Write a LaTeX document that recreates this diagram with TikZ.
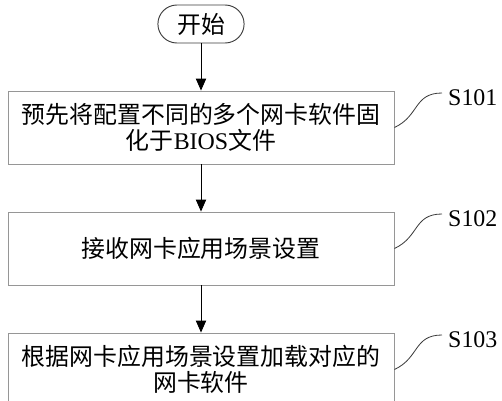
\documentclass[tikz,border=0pt]{standalone}
\usepackage{fontspec}
\setmainfont{Liberation Serif}
\newfontfamily\cjk{Noto Sans CJK SC}
\usetikzlibrary{arrows.meta, positioning, shapes.misc}
\definecolor{boxgray} {RGB}{150,150,150}
\definecolor{edgegray}{RGB}{ 60, 60, 60}

\begin{document}
\begin{tikzpicture}[
  stepbox/.style={rectangle, draw=boxgray, line width=0.8pt,
    minimum width=11.58cm, minimum height=2.19cm, align=center,
    font=\cjk\fontsize{20.4}{22.2}\selectfont, inner sep=0pt},
  term/.style={rounded rectangle, draw=edgegray, line width=0.8pt,
    minimum width=2.82cm, minimum height=1.14cm,
    font=\cjk\fontsize{20.4}{22.2}\selectfont},
  tag/.style={anchor=west, inner sep=0pt, font=\fontsize{20.4}{22}\selectfont},
  arr/.style={-{Triangle[length=0.36cm,width=0.31cm]}, line width=0.8pt},
  lead/.style={draw=edgegray, line width=0.7pt},
]
\useasboundingbox (0,0) rectangle (15.06,-12);
\clip (0,0) rectangle (15.06,-12);

%% ── Start ────────────────────────────────────────────────────────────────────
\node[term] (START) at (6.03,-0.72) {开始};

%% ── Steps ────────────────────────────────────────────────────────────────────
\node[stepbox] (B1) at (6.03,-3.825)
  {预先将配置不同的多个网卡软件固\\化于{\rmfamily BIOS}文件};
\node[stepbox] (B2) at (6.03,-7.455) {接收网卡应用场景设置};
\node[stepbox] (B3) at (6.03,-11.085)
  {根据网卡应用场景设置加载对应的\\网卡软件};

\draw[arr] (START.south) -- (B1.north);
\draw[arr] (B1.south) -- (B2.north);
\draw[arr] (B2.south) -- (B3.north);

%% ── Step labels ──────────────────────────────────────────────────────────────
\node[tag] (S1) at (13.44,-2.94) {S101};
\node[tag] (S2) at (13.44,-6.57) {S102};
\node[tag] (S3) at (13.44,-10.20) {S103};

\foreach \b/\s in {B1/S1, B2/S2, B3/S3}
  \draw[lead] (\b.east) .. controls +(0.75,0.35) and +(-0.85,0)
    .. ([xshift=-0.18cm,yshift=0.15cm]\s.west);

\end{tikzpicture}
\end{document}
